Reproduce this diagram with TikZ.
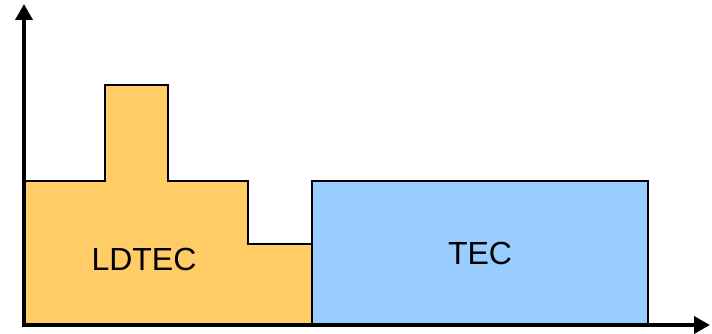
\documentclass[tikz,border=0pt]{standalone}
\usepackage{fontspec}
\setmainfont{Liberation Sans}
\usetikzlibrary{arrows.meta}
\definecolor{ldorange}{HTML}{FFCC66}
\definecolor{tecblue}{HTML}{99CCFF}
\tikzset{
  region/.style={draw=black, line width=1.5pt},
  axis/.style={line width=3.6pt, -{Triangle[length=16pt,width=17pt]}},
  lbl/.style={font=\fontsize{32}{36}\selectfont, inner sep=0pt}
}
\begin{document}
\begin{tikzpicture}[x=1pt,y=-1pt]
\useasboundingbox (0,0) rectangle (712,334);
\path[region, fill=ldorange] (25,324) -- (25,181) -- (105,181) -- (105,85) -- (168,85) -- (168,181) -- (248,181) -- (248,244) -- (312,244) -- (312,324) -- cycle;
\path[region, fill=tecblue] (312,181) rectangle (648,324);
\node[lbl] (ld) at (144,259) {LDTEC};
\node[lbl] (tec) at (480,253) {TEC};
\coordinate (ybot) at (24,326.8);
\coordinate (ytop) at (24,4);
\coordinate (xbeg) at (22.2,325);
\coordinate (xend) at (710,325);
\draw[axis] (ybot) -- (ytop);
\draw[axis] (xbeg) -- (xend);
\end{tikzpicture}
\end{document}
